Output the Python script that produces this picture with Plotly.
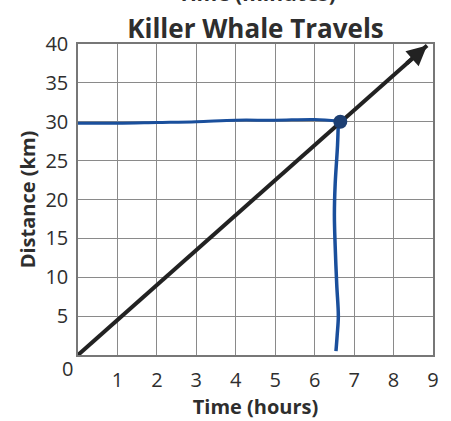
import plotly.graph_objects as go

# Data
line_hours = [0, 8.85]
line_km = [0, 39.8]

horiz_hours = [0, 1, 2, 3, 4, 5, 6, 6.6]
horiz_km = [29.8, 29.8, 29.9, 30.0, 30.2, 30.2, 30.3, 30.1]

vert_hours = [6.6, 6.58, 6.52, 6.5, 6.52, 6.56, 6.6, 6.57, 6.54]
vert_km = [30.0, 27.0, 22.0, 18.0, 14.0, 9.0, 5.0, 2.5, 0.5]

point_hours = [6.65]
point_km = [30.0]

x_ticks = [1, 2, 3, 4, 5, 6, 7, 8, 9]
y_ticks = [5, 10, 15, 20, 25, 30, 35, 40]

title_text = "Killer Whale Travels"
x_title = "Time (hours)"
y_title = "Distance (km)"
header_text = "Time (minutes)"

FONT = "Open Sans"
TXT = "#2e2e2e"

fig = go.Figure()

fig.add_trace(go.Scatter(x=horiz_hours, y=horiz_km, mode="lines",
                         line=dict(color="#1a4f9c", width=3), line_shape="spline",
                         hoverinfo="skip"))
fig.add_trace(go.Scatter(x=vert_hours, y=vert_km, mode="lines",
                         line=dict(color="#1a4f9c", width=3.5), line_shape="spline",
                         hoverinfo="skip"))
fig.add_trace(go.Scatter(x=line_hours, y=line_km, mode="lines",
                         line=dict(color="#222222", width=4), hoverinfo="skip"))
fig.add_trace(go.Scatter(x=point_hours, y=point_km, mode="markers",
                         marker=dict(color="#1d3f73", size=14), hoverinfo="skip"))

# Arrow head at the end of the black line
fig.add_annotation(x=line_hours[1], y=line_km[1], ax=8.3, ay=37.35,
                   xref="x", yref="y", axref="x", ayref="y",
                   text="", showarrow=True, arrowhead=2, arrowsize=1.0,
                   arrowwidth=4, arrowcolor="#222222")

# Corner zero label
fig.add_annotation(x=0, y=0, xref="x", yref="y", text="0", showarrow=False,
                   xshift=-11, yshift=-13,
                   font=dict(family=FONT, size=20, color=TXT))

# Partial header of previous figure (cut off at top of page)
fig.add_annotation(x=0.505, y=1, xref="paper", yref="paper", yshift=51,
                   yanchor="middle",
                   text="<b>" + header_text + "</b>", showarrow=False,
                   font=dict(family=FONT, size=21, color=TXT))

fig.update_layout(
    width=451, height=421,
    margin=dict(l=78, r=15, t=44, b=57),
    paper_bgcolor="white", plot_bgcolor="white",
    showlegend=False,
    title=dict(text="<b>" + title_text + "</b>", x=0.5, xref="paper",
               xanchor="center", y=1, yref="paper", yanchor="bottom",
               pad=dict(b=6),
               font=dict(family=FONT, size=26, color=TXT, weight=800)),
)

fig.update_xaxes(range=[0, 9], tickvals=x_ticks, ticks="", showgrid=True,
                 gridcolor="#8a8a8a", gridwidth=1, zeroline=False,
                 showline=True, linecolor="#777777", linewidth=1.5, mirror=True,
                 tickfont=dict(family=FONT, size=20, color=TXT),
                 ticklabelstandoff=6,
                 title=dict(text="<b>" + x_title + "</b>", standoff=2,
                            font=dict(family=FONT, size=20, color=TXT)))
fig.update_yaxes(range=[0, 40], tickvals=y_ticks, ticks="", showgrid=True,
                 gridcolor="#8a8a8a", gridwidth=1, zeroline=False,
                 showline=True, linecolor="#777777", linewidth=1.5, mirror=True,
                 tickfont=dict(family=FONT, size=20, color=TXT),
                 ticklabelstandoff=4,
                 title=dict(text="<b>" + y_title + "</b>", standoff=4,
                            font=dict(family=FONT, size=20, color=TXT)))

fig.write_html("out.html", config={"displayModeBar": False},
               post_script="document.body.style.margin='0';document.body.style.overflow='hidden';")
